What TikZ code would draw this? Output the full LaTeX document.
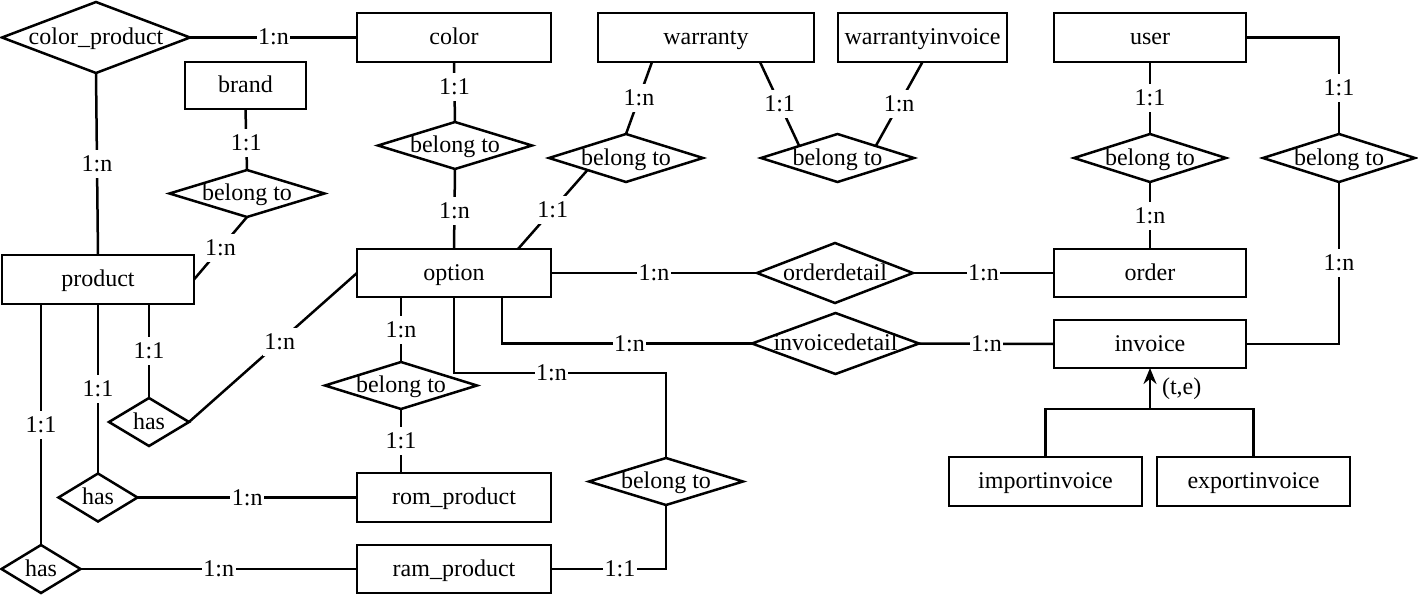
\documentclass[tikz,border=0pt]{standalone}
\usepackage{fontspec}
\setmainfont{Liberation Serif}
\usetikzlibrary{shapes.geometric,arrows.meta}
\newcommand\dtext[1]{\smash{\makebox[0pt]{\raisebox{-0.31em}{#1}}}}
\begin{document}
\begin{tikzpicture}[x=1pt,y=-1pt,line width=2.5pt,
  every node/.style={font=\fontsize{24}{28}\selectfont, outer sep=0pt},
  ent/.style={draw, rectangle, inner sep=0pt, minimum height=49pt},
  rel/.style={draw, diamond, inner sep=0pt, minimum width=154pt, minimum height=47pt},
  card/.style={fill=white, inner xsep=1.5pt, inner ysep=2.5pt, text height=19pt, text depth=4pt},
  isaarrow/.style={-{Stealth[length=16pt,width=13pt]}}]
\useasboundingbox (0,0) rectangle (1418,594);
% entities and relationships
\node[rel, minimum width=188pt, minimum height=71pt] (cp) at (96,37.5) {\dtext{color\_product}};
\node[ent, minimum width=194pt] (color) at (454,37.5) {\dtext{color}};
\node[ent, minimum width=216pt] (warranty) at (706,37.5) {\dtext{warranty}};
\node[ent, minimum width=169pt] (winv) at (922.5,37.5) {\dtext{warrantyinvoice}};
\node[ent, minimum width=192pt] (user) at (1150,37.5) {\dtext{user}};
\node[ent, minimum width=121pt, minimum height=47pt] (brand) at (245.5,85.5) {\dtext{brand}};
\node[rel, minimum width=155pt] (bb) at (247,193.5) {\dtext{belong to}};
\node[rel] (bc) at (455,145.5) {\dtext{belong to}};
\node[rel, minimum height=48pt] (bw1) at (626,158) {\dtext{belong to}};
\node[rel, minimum height=48pt, minimum width=153pt] (bw2) at (837.5,158) {\dtext{belong to}};
\node[rel, minimum height=48pt, minimum width=152pt] (bu1) at (1150,158) {\dtext{belong to}};
\node[rel, minimum height=48pt, minimum width=152pt] (bu2) at (1339,158) {\dtext{belong to}};
\node[ent, minimum width=192pt] (product) at (98,279.5) {\dtext{product}};
\node[ent, minimum width=194pt, minimum height=48pt] (option) at (454,273) {\dtext{option}};
\node[rel, minimum width=156pt, minimum height=60pt] (od) at (835,273) {\dtext{orderdetail}};
\node[ent, minimum width=192pt, minimum height=48pt] (order) at (1150,273) {\dtext{order}};
\node[rel, minimum width=167pt, minimum height=61pt] (idt) at (835.5,343.5) {\dtext{invoicedetail}};
\node[ent, minimum width=192pt, minimum height=48pt] (invoice) at (1150,344) {\dtext{invoice}};
\node[rel, minimum width=152pt] (br) at (401,385.5) {\dtext{belong to}};
\node[rel] (bram) at (666,481.5) {\dtext{belong to}};
\node[rel, minimum width=80pt, minimum height=48pt] (has1) at (149,422) {\dtext{has}};
\node[rel, minimum width=79pt, minimum height=48pt] (has2) at (98,497.5) {\dtext{has}};
\node[rel, minimum width=79pt, minimum height=48pt] (has3) at (41,569) {\dtext{has}};
\node[ent, minimum width=194pt] (rom) at (454,497.5) {\dtext{rom\_product}};
\node[ent, minimum width=194pt, minimum height=48pt] (ram) at (454,569) {\dtext{ram\_product}};
\node[ent, minimum width=193pt] (imp) at (1045.5,481.5) {\dtext{importinvoice}};
\node[ent, minimum width=193pt] (exp) at (1253.5,481.5) {\dtext{exportinvoice}};
% connectors
\draw (cp.east) -- node[card]{1:n} (color.west);
\draw (cp.south) -- node[card]{1:n} (product.north);
\draw (brand.south) -- node[card,pos=0.55]{1:1} (bb.north);
\draw (bb.south) -- node[card]{1:n} (product.east);
\draw (color.south) -- node[card,pos=0.42]{1:1} (bc.north);
\draw (bc.south) -- node[card,pos=0.53]{1:n} (option.north);
\draw ([xshift=-54pt]warranty.south) -- node[card]{1:n} (bw1.north);
\draw (bw1.south west) -- node[card]{1:1} ([xshift=64pt]option.north);
\draw ([xshift=54pt]warranty.south) -- node[card]{1:1} (bw2.north west);
\draw (winv.south) -- node[card]{1:n} (bw2.north east);
\draw (user.south) -- node[card]{1:1} (bu1.north);
\draw (bu1.south) -- node[card]{1:n} (order.north);
\draw (user.east) -| node[card,pos=0.76]{1:1} (bu2.north);
\draw (bu2.south) |- node[card,pos=0.25]{1:n} (invoice.east);
\draw (option.east) -- node[card]{1:n} (od.west);
\draw (od.east) -- node[card]{1:n} (order.west);
\draw ([xshift=48pt]option.south) |- node[card,pos=0.755]{1:n} (idt.west);
\draw (idt.east) -- node[card]{1:n} (invoice.west);
\draw ([xshift=-53pt]option.south) -- node[card]{1:n} (br.north);
\draw (br.south) -- node[card]{1:1} ([xshift=-53pt]rom.north);
\draw (option.south) -- ++(0,76) -| node[card,pos=0.23]{1:n} (bram.north);
\draw (bram.south) |- node[card,pos=0.7]{1:1} (ram.east);
\draw ([xshift=51pt]product.south) -- node[card]{1:1} (has1.north);
\draw (has1.east) -- node[card,pos=0.54]{1:n} (option.west);
\draw (product.south) -- node[card]{1:1} (has2.north);
\draw (has2.east) -- node[card]{1:n} (rom.west);
\draw ([xshift=-57pt]product.south) -- node[card]{1:1} (has3.north);
\draw (has3.east) -- node[card]{1:n} (ram.west);
% specialisation
\coordinate (isa) at (1150,409);
\draw (imp.north) |- (isa) -| (exp.north);
\draw[isaarrow] (isa) -- node[anchor=west, xshift=12pt, inner sep=0pt]{(t,e)} (invoice.south);
\end{tikzpicture}
\end{document}
